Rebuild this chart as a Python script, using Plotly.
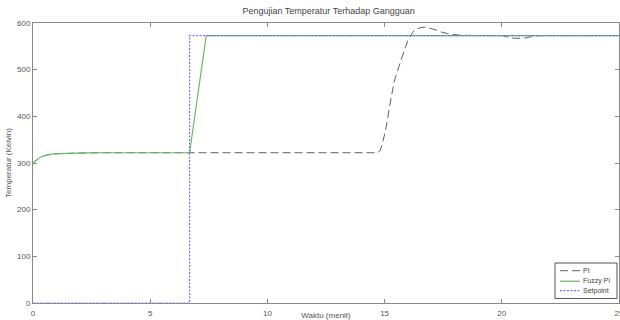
import plotly.graph_objects as go

# PI controller response
pi_t = [0, 0.15, 0.3, 0.5, 0.8, 1.1, 1.5, 2.2, 3, 6.68, 14.7, 14.8, 14.9, 15.0, 15.1, 15.2, 15.3, 15.4, 15.5, 15.6, 15.7,
        15.8, 15.9, 16.0, 16.1, 16.2, 16.3, 16.4, 16.55, 16.7, 16.85, 17.0, 17.2, 17.4, 17.7, 18.0,
        18.2, 19, 20, 20.15, 20.3, 20.45, 20.6, 20.8, 21.0, 21.2, 21.4, 21.7, 22, 25]
pi_v = [300, 307, 312, 316, 319, 320, 321, 321.5, 322, 322, 322, 326, 340, 362, 386, 418, 450, 472, 490, 506, 521,
        535, 550, 563, 573, 580, 585, 588, 590, 591, 590, 588, 585, 581, 577, 575,
        574, 573, 573, 571, 569, 568, 567, 567, 568, 570, 572, 573, 573, 573]

# Fuzzy PI controller response
fz_t = [0, 0.15, 0.3, 0.5, 0.8, 1.1, 1.5, 2.2, 3, 6.68, 7.39, 25]
fz_v = [300, 307, 312, 316, 319, 320, 321, 321.5, 322, 322, 573, 573]

# Setpoint
sp_t = [0, 6.68, 6.68, 25]
sp_v = [0, 0, 573, 573]

x_ticks = [0, 5, 10, 15, 20, 25]
y_ticks = [0, 100, 200, 300, 400, 500, 600]

series = [
    ("PI", pi_t, pi_v, dict(color="#606060", width=1, dash="8px,4px")),
    ("Fuzzy PI", fz_t, fz_v, dict(color="#66bb66", width=1.2)),
    ("Setpoint", sp_t, sp_v, dict(color="#6f6fff", width=1.2, dash="2px,1.5px")),
]

fig = go.Figure()
for name, t, v, ln in series:
    fig.add_trace(go.Scatter(x=t, y=v, mode="lines", name=name, line=ln, showlegend=False))

font = "Arial, Liberation Sans"
axis_common = dict(showgrid=False, zeroline=False, showline=True, linecolor="#8a8a8a", linewidth=1,
                   mirror="ticks", ticks="inside", ticklen=4, tickcolor="#8a8a8a", automargin=False,
                   tickfont=dict(family=font, size=8, color="#555555"))

W, H, L, R, T, B = 620, 320, 33, 1, 23, 17
pw, ph = W - L - R, H - T - B


def px(x):
    return (x - L) / pw


def py(y):
    return (H - B - y) / ph


# compact MATLAB-style legend box
shapes = [dict(type="rect", xref="paper", yref="paper", x0=px(555), x1=px(617), y0=py(298.5), y1=py(263),
               line=dict(color="#555555", width=1), fillcolor="white", layer="above")]
annotations = []
rows = [270.7, 281.2, 290.7]
for (name, t, v, ln), ry in zip(series, rows):
    shapes.append(dict(type="line", xref="paper", yref="paper", x0=px(560), x1=px(580), y0=py(ry), y1=py(ry),
                       line=ln, layer="above"))
    annotations.append(dict(text=name, xref="paper", yref="paper", x=px(581), y=py(ry), xanchor="left",
                            yanchor="middle", showarrow=False, font=dict(family=font, size=7, color="#444444")))

fig.update_layout(
    width=W, height=H,
    margin=dict(l=L, r=R, t=T, b=B),
    paper_bgcolor="white", plot_bgcolor="white",
    title=dict(text="Pengujian Temperatur Terhadap Gangguan", x=0.53, xanchor="center", y=0.975, yanchor="top",
               font=dict(family=font, size=9, color="#444444")),
    xaxis=dict(range=[0, 25], tickvals=x_ticks, ticklabeloverflow="allow", ticklabelstandoff=2, **axis_common,
               title=dict(text="Waktu (menit)", standoff=2,
                          font=dict(family=font, size=8, color="#555555"))),
    yaxis=dict(range=[0, 600], tickvals=y_ticks, **axis_common,
               title=dict(text="Temperatur (Kelvin)", standoff=4,
                          font=dict(family=font, size=8, color="#555555"))),
    shapes=shapes,
    annotations=annotations,
    showlegend=False,
)

fig.write_html("out.html")
